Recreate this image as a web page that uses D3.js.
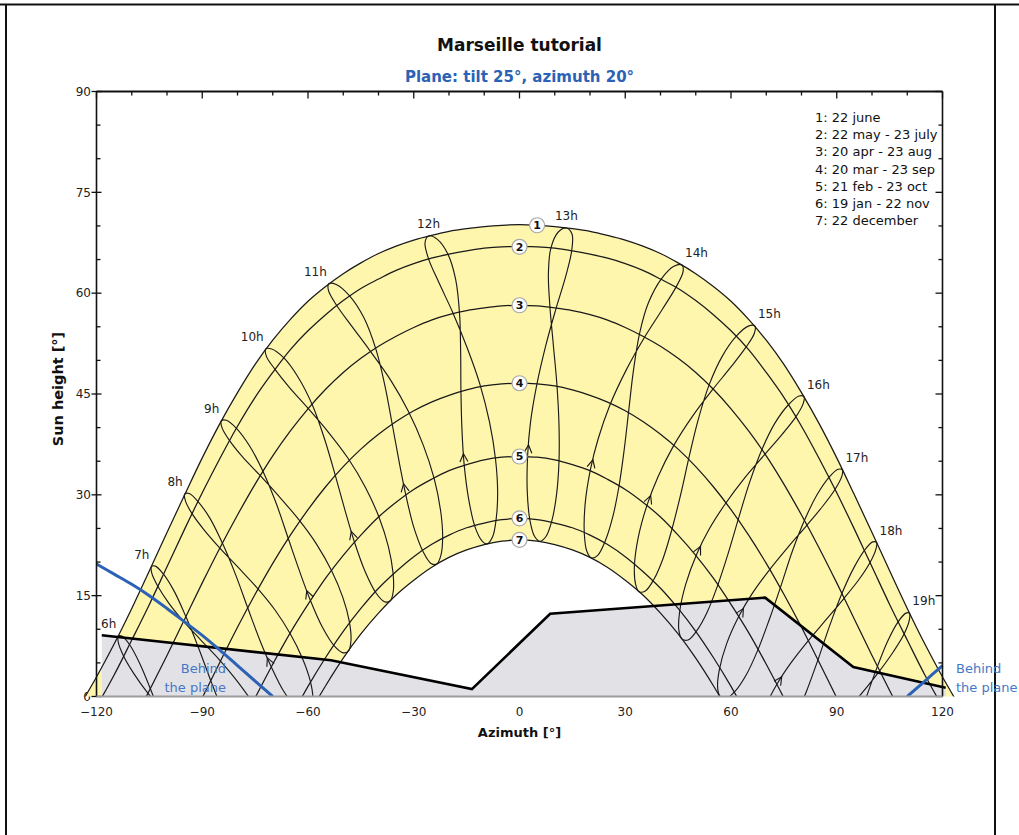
<!DOCTYPE html>
<html>
<head>
<meta charset="utf-8">
<script src="https://cdn.jsdelivr.net/npm/d3@7"></script>
<style>
  body { margin: 0; background: #fff; }
  svg { display: block; font-family: "DejaVu Sans", Verdana, sans-serif; }
</style>
</head>
<body>
<svg id="chart" width="1019" height="835"></svg>
<script>
// ---- data ----
const xTicks = [-120, -90, -60, -30, 0, 30, 60, 90, 120];
const yTicks = [0, 15, 30, 45, 60, 75, 90];

const dayLabels = ["1: 22 june", "2: 22 may - 23 july", "3: 20 apr - 23 aug", "4: 20 mar - 23 sep",
                   "5: 21 feb - 23 oct", "6: 19 jan - 22 nov", "7: 22 december"];

// day curves: sun height at each azimuth
const curveAzimuths = [-125, -120, -115, -110, -105, -100, -95, -90, -85, -80, -75, -70, -65, -60, -55, -50, -45,
  -40, -35, -30, -25, -20, -15, -10, -5, 0, 5, 10, 15, 20, 25, 30, 35, 40,
  45, 50, 55, 60, 65, 70, 75, 80, 85, 90, 95, 100, 105, 110, 115, 120, 125];
const curve1 = [-1.6, 2.9, 7.8, 13.1, 18.7, 24.4, 30.0, 35.5, 40.6, 45.2, 49.4, 53.0, 56.1, 58.8, 61.0, 62.9, 64.5,
  65.9, 67.0, 67.9, 68.6, 69.2, 69.6, 69.9, 70.1, 70.2, 70.1, 69.9, 69.6, 69.2, 68.6, 67.9, 67.0, 65.9,
  64.5, 62.9, 61.0, 58.8, 56.1, 53.0, 49.4, 45.2, 40.6, 35.5, 30.0, 24.4, 18.7, 13.1, 7.8, 2.9, -1.6];
const curve2 = [-5.8, -1.5, 3.2, 8.4, 13.7, 19.3, 24.9, 30.3, 35.4, 40.2, 44.5, 48.2, 51.6, 54.4, 56.8, 58.9, 60.7,
  62.1, 63.4, 64.4, 65.2, 65.8, 66.3, 66.7, 66.9, 66.9, 66.9, 66.7, 66.3, 65.8, 65.2, 64.4, 63.4, 62.1,
  60.7, 58.9, 56.8, 54.4, 51.6, 48.2, 44.5, 40.2, 35.4, 30.3, 24.9, 19.3, 13.7, 8.4, 3.2, -1.5, -5.8];
const curve3 = [-17.0, -13.1, -8.8, -4.1, 0.9, 6.1, 11.5, 16.9, 22.1, 27.0, 31.6, 35.8, 39.5, 42.8, 45.7, 48.2, 50.3,
  52.1, 53.6, 54.9, 56.0, 56.8, 57.4, 57.8, 58.1, 58.2, 58.1, 57.8, 57.4, 56.8, 56.0, 54.9, 53.6, 52.1,
  50.3, 48.2, 45.7, 42.8, 39.5, 35.8, 31.6, 27.0, 22.1, 16.9, 11.5, 6.1, 0.9, -4.1, -8.8, -13.1, -17.0];
const curve4 = [-31.5, -28.1, -24.3, -20.1, -15.5, -10.6, -5.4, -0.2, 5.1, 10.3, 15.2, 19.8, 24.0, 27.8, 31.2, 34.2, 36.8,
  39.0, 40.9, 42.5, 43.8, 44.8, 45.6, 46.2, 46.5, 46.6, 46.5, 46.2, 45.6, 44.8, 43.8, 42.5, 40.9, 39.0,
  36.8, 34.2, 31.2, 27.8, 24.0, 19.8, 15.2, 10.3, 5.1, -0.2, -5.4, -10.6, -15.5, -20.1, -24.3, -28.1, -31.5];
const curve5 = [-45.1, -42.2, -38.8, -35.1, -30.9, -26.3, -21.3, -16.1, -10.8, -5.4, -0.2, 4.8, 9.5, 13.7, 17.6, 21.0, 24.0,
  26.7, 28.9, 30.8, 32.3, 33.6, 34.5, 35.2, 35.6, 35.7, 35.6, 35.2, 34.5, 33.6, 32.3, 30.8, 28.9, 26.7,
  24.0, 21.0, 17.6, 13.7, 9.5, 4.8, -0.2, -5.4, -10.8, -16.1, -21.3, -26.3, -30.9, -35.1, -38.8, -42.2, -45.1];
const curve6 = [-56.9, -54.4, -51.6, -48.3, -44.5, -40.2, -35.4, -30.3, -24.9, -19.3, -13.8, -8.4, -3.3, 1.5, 5.8, 9.7, 13.1,
  16.1, 18.6, 20.8, 22.6, 24.0, 25.1, 25.8, 26.3, 26.5, 26.3, 25.8, 25.1, 24.0, 22.6, 20.8, 18.6, 16.1,
  13.1, 9.7, 5.8, 1.5, -3.3, -8.4, -13.8, -19.3, -24.9, -30.3, -35.4, -40.2, -44.5, -48.3, -51.6, -54.4, -56.9];
const curve7 = [-61.0, -58.8, -56.1, -53.0, -49.3, -45.2, -40.5, -35.4, -30.0, -24.3, -18.6, -13.1, -7.8, -2.9, 1.6, 5.7, 9.3,
  12.4, 15.1, 17.3, 19.2, 20.7, 21.8, 22.6, 23.1, 23.3, 23.1, 22.6, 21.8, 20.7, 19.2, 17.3, 15.1, 12.4,
  9.3, 5.7, 1.6, -2.9, -7.8, -13.1, -18.6, -24.3, -30.0, -35.4, -40.5, -45.2, -49.3, -53.0, -56.1, -58.8, -61.0];
const dayCurves = [curve1, curve2, curve3, curve4, curve5, curve6, curve7];

// hour loops (legal time), one point per half month through the year
const loopDates = ["4 jan", "19 jan", "5 feb", "21 feb", "6 mar", "20 mar", "5 apr", "20 apr", "6 may", "22 may", "7 jun", "22 jun",
                   "7 jul", "23 jul", "8 aug", "23 aug", "8 sep", "23 sep", "8 oct", "23 oct", "7 nov", "22 nov", "7 dec", "22 dec"];
const hours = [6, 7, 8, 9, 10, 11, 12, 13, 14, 15, 16, 17, 18, 19];
const loopAzimuths = [
  [-79.7, -82.5, -86.7, -91.0, -94.3, -97.7, -101.4, -104.6, -107.8, -110.6, -112.8, -113.8, -113.8, -112.3, -109.4, -105.6, -100.6, -95.5, -90.4, -85.7, -81.8, -79.2, -77.9, -78.2],
  [-70.3, -72.9, -76.8, -80.8, -84.0, -87.4, -91.1, -94.5, -97.9, -101.0, -103.3, -104.4, -104.3, -102.6, -99.5, -95.5, -90.4, -85.2, -80.1, -75.6, -71.9, -69.5, -68.5, -68.9],
  [-60.6, -63.1, -66.8, -70.5, -73.6, -76.9, -80.6, -84.1, -87.8, -91.2, -93.7, -95.0, -94.7, -92.9, -89.5, -85.2, -79.8, -74.5, -69.4, -65.0, -61.6, -59.4, -58.6, -59.1],
  [-50.0, -52.5, -55.9, -59.4, -62.3, -65.4, -69.0, -72.6, -76.6, -80.3, -83.2, -84.6, -84.4, -82.3, -78.5, -73.8, -68.1, -62.6, -57.5, -53.3, -50.1, -48.3, -47.8, -48.5],
  [-38.3, -40.7, -43.8, -46.9, -49.4, -52.1, -55.3, -58.7, -62.8, -66.9, -70.3, -72.0, -71.8, -69.4, -65.3, -60.2, -54.2, -48.6, -43.7, -39.8, -37.2, -35.9, -35.8, -36.7],
  [-25.1, -27.3, -30.0, -32.3, -34.1, -36.0, -38.2, -40.7, -44.1, -48.2, -52.0, -54.1, -54.2, -51.9, -47.6, -42.5, -36.6, -31.5, -27.3, -24.2, -22.4, -21.8, -22.3, -23.5],
  [-10.7, -12.6, -14.4, -15.7, -16.3, -16.6, -16.7, -17.0, -18.1, -20.3, -23.3, -25.8, -26.8, -25.8, -22.8, -19.0, -14.8, -11.2, -8.5, -6.8, -6.2, -6.6, -7.6, -9.2],
  [4.3, 3.0, 2.2, 2.3, 3.1, 4.8, 7.5, 10.3, 13.1, 14.8, 14.9, 13.3, 11.0, 8.9, 8.2, 8.6, 9.6, 10.6, 11.2, 11.2, 10.5, 9.2, 7.5, 5.8],
  [19.1, 18.4, 18.6, 20.1, 22.3, 25.6, 30.4, 35.3, 40.4, 44.4, 46.4, 46.1, 43.8, 40.2, 36.6, 34.1, 32.3, 31.0, 29.7, 28.2, 26.4, 24.3, 22.2, 20.4],
  [32.9, 32.6, 33.7, 36.2, 39.3, 43.5, 49.1, 54.7, 60.1, 64.3, 66.6, 66.8, 64.9, 61.5, 57.5, 53.9, 50.7, 48.1, 45.7, 43.2, 40.7, 38.1, 35.7, 33.9],
  [45.2, 45.4, 47.1, 50.2, 53.7, 58.3, 64.0, 69.4, 74.5, 78.4, 80.5, 80.7, 79.3, 76.3, 72.5, 68.9, 65.3, 62.2, 59.2, 56.2, 53.2, 50.3, 47.8, 46.0],
  [56.2, 56.7, 58.8, 62.3, 66.0, 70.7, 76.3, 81.4, 86.0, 89.5, 91.4, 91.6, 90.4, 87.8, 84.4, 81.0, 77.4, 74.2, 70.9, 67.6, 64.3, 61.2, 58.6, 56.8],
  [66.2, 66.9, 69.4, 73.1, 77.0, 81.6, 87.1, 91.9, 96.3, 99.4, 101.1, 101.3, 100.2, 97.8, 94.8, 91.6, 88.1, 84.9, 81.5, 78.0, 74.5, 71.2, 68.4, 66.7],
  [75.7, 76.6, 79.4, 83.3, 87.3, 91.9, 97.3, 102.0, 106.1, 109.1, 110.6, 110.6, 109.6, 107.4, 104.6, 101.7, 98.4, 95.2, 91.8, 88.1, 84.4, 80.8, 77.9, 76.1]
];
const loopHeights = [
  [-23.0, -22.5, -20.4, -16.9, -13.3, -8.8, -3.5, 1.0, 5.0, 7.7, 9.0, 9.0, 8.0, 6.0, 3.4, 0.6, -2.5, -5.4, -8.5, -11.7, -14.9, -18.0, -20.5, -22.3],
  [-12.4, -11.9, -9.6, -6.1, -2.4, 2.1, 7.3, 11.7, 15.6, 18.2, 19.4, 19.3, 18.3, 16.4, 13.9, 11.3, 8.4, 5.5, 2.3, -1.0, -4.3, -7.5, -10.1, -11.8],
  [-2.5, -1.8, 0.7, 4.5, 8.3, 12.9, 18.2, 22.6, 26.5, 29.0, 30.2, 30.1, 29.0, 27.2, 24.8, 22.2, 19.2, 16.2, 12.9, 9.3, 5.7, 2.4, -0.3, -2.0],
  [6.5, 7.5, 10.3, 14.4, 18.5, 23.2, 28.7, 33.3, 37.3, 39.9, 41.1, 41.0, 40.0, 38.1, 35.6, 33.0, 29.7, 26.3, 22.6, 18.7, 14.7, 11.2, 8.4, 6.8],
  [14.1, 15.4, 18.6, 23.1, 27.5, 32.6, 38.3, 43.3, 47.5, 50.4, 51.7, 51.7, 50.6, 48.7, 46.0, 43.0, 39.3, 35.4, 31.1, 26.6, 22.3, 18.5, 15.7, 14.2],
  [19.8, 21.5, 25.2, 30.1, 34.8, 40.2, 46.3, 51.6, 56.3, 59.6, 61.3, 61.4, 60.4, 58.2, 55.1, 51.5, 47.1, 42.4, 37.4, 32.4, 27.7, 23.8, 21.0, 19.7],
  [23.2, 25.2, 29.3, 34.5, 39.4, 45.0, 51.4, 56.9, 62.0, 65.8, 68.0, 68.5, 67.5, 65.1, 61.5, 57.2, 51.8, 46.4, 40.8, 35.3, 30.4, 26.5, 23.8, 22.7],
  [23.8, 26.1, 30.5, 35.8, 40.7, 46.1, 52.3, 57.6, 62.5, 66.3, 68.8, 69.7, 69.1, 66.7, 62.9, 58.2, 52.3, 46.5, 40.5, 34.9, 30.0, 26.2, 23.8, 23.1],
  [21.6, 24.1, 28.5, 33.7, 38.3, 43.3, 48.7, 53.3, 57.5, 60.9, 63.2, 64.2, 64.0, 62.1, 58.6, 54.1, 48.4, 42.6, 36.7, 31.2, 26.6, 23.1, 21.0, 20.6],
  [16.8, 19.4, 23.7, 28.5, 32.7, 37.1, 41.7, 45.6, 49.1, 52.0, 54.0, 55.1, 55.1, 53.6, 50.6, 46.5, 41.2, 35.6, 30.0, 24.8, 20.5, 17.4, 15.7, 15.6],
  [9.9, 12.5, 16.6, 21.1, 24.8, 28.6, 32.6, 35.9, 39.0, 41.6, 43.6, 44.6, 44.7, 43.4, 40.7, 36.9, 31.9, 26.6, 21.3, 16.5, 12.5, 9.8, 8.4, 8.6],
  [1.4, 4.0, 7.9, 12.0, 15.3, 18.7, 22.3, 25.4, 28.3, 30.8, 32.7, 33.7, 33.8, 32.6, 30.0, 26.4, 21.6, 16.5, 11.5, 6.9, 3.2, 0.8, -0.3, 0.1],
  [-8.1, -5.6, -1.9, 1.9, 5.0, 8.1, 11.5, 14.5, 17.4, 19.9, 21.9, 22.9, 23.0, 21.7, 19.1, 15.5, 10.7, 5.8, 0.9, -3.5, -7.0, -9.2, -10.1, -9.5],
  [-18.4, -15.9, -12.4, -8.8, -5.8, -2.7, 0.6, 3.7, 6.7, 9.3, 11.4, 12.4, 12.4, 11.1, 8.4, 4.7, -0.1, -5.1, -10.0, -14.4, -17.7, -19.8, -20.5, -19.9]
];

// far horizon profile
const horizonAz = [-118.5, -53.5, -13.5, 8.7, 69.7, 94.7, 120.9];
const horizonHeight = [9.1, 5.4, 1.1, 12.3, 14.7, 4.4, 1.3];

// limit where the sun goes behind the plane
const behindLeftAz = [-120, -115, -110, -105, -100, -95, -90, -85, -80, -75, -70];
const behindLeftH = [19.7, 18.2, 16.7, 15.0, 13.1, 11.1, 9.1, 6.9, 4.6, 2.3, 0.0];
const behindRightAz = [110, 115, 120];
const behindRightH = [0.0, 2.3, 4.6];

// ---- drawing ----
const svg = d3.select("#chart");
const x = d3.scaleLinear().domain([-120, 120]).range([96.5, 942.5]);
const y = d3.scaleLinear().domain([0, 90]).range([696.5, 91.5]);

const yellow = "#fff6ad", grey = "#e2e2e6", blue = "#2b62b5", blueText = "#4677c6";

// page frame
svg.append("line").attr("x1", 0).attr("x2", 1019).attr("y1", 4.5).attr("y2", 4.5).attr("stroke", "#111").attr("stroke-width", 2);
svg.append("line").attr("x1", 6).attr("x2", 6).attr("y1", 4).attr("y2", 835).attr("stroke", "#111").attr("stroke-width", 2);
svg.append("line").attr("x1", 995).attr("x2", 995).attr("y1", 4).attr("y2", 835).attr("stroke", "#111").attr("stroke-width", 2);

// titles
svg.append("text").attr("x", 519.5).attr("y", 51).attr("text-anchor", "middle")
  .attr("font-size", 17).attr("font-weight", "bold").attr("fill", "#111").text("Marseille tutorial");
svg.append("text").attr("x", 519.5).attr("y", 82).attr("text-anchor", "middle")
  .attr("font-size", 15).attr("font-weight", "bold").attr("fill", blue).text("Plane: tilt 25°, azimuth 20°");

// tick labels
const fmt = d3.format("d");
svg.append("g").selectAll("text").data(yTicks).join("text")
  .attr("x", 91).attr("y", d => y(d)).attr("dy", "0.35em").attr("text-anchor", "end")
  .attr("font-size", 12).attr("fill", "#222").text(fmt);
svg.append("g").selectAll("text").data(xTicks).join("text")
  .attr("x", d => x(d)).attr("y", 716).attr("text-anchor", "middle")
  .attr("font-size", 12).attr("fill", "#222").text(fmt);

svg.append("text").attr("x", 519.5).attr("y", 737).attr("text-anchor", "middle")
  .attr("font-size", 13).attr("font-weight", "bold").attr("fill", "#111").text("Azimuth [°]");
svg.append("text").attr("transform", "translate(63,389) rotate(-90)").attr("text-anchor", "middle")
  .attr("font-size", 14.5).attr("font-weight", "bold").attr("fill", "#111").text("Sun height [°]");

// plot area
svg.append("clipPath").attr("id", "plotClip").append("rect")
  .attr("x", 60).attr("y", y(90)).attr("width", 930).attr("height", y(0) - y(90));
const plot = svg.append("g").attr("clip-path", "url(#plotClip)");

const line = d3.line().x(d => x(d[0])).y(d => y(d[1]));
const smooth = d3.line().x(d => x(d[0])).y(d => y(d[1])).curve(d3.curveCatmullRom);
const loopLine = d3.line().x(d => x(d[0])).y(d => y(d[1])).curve(d3.curveCatmullRomClosed.alpha(0.5));
const curvePoints = hs => curveAzimuths.map((a, i) => [a, hs[i]]);

// yellow band between 22 june and 22 december
const upper = smooth(curvePoints(curve1));
const lower = smooth(curvePoints(curve7).reverse());
plot.append("path").attr("d", upper + "L" + lower.slice(1) + "Z").attr("fill", yellow);

// horizon shading
const horizonPts = horizonAz.map((a, i) => [a, horizonHeight[i]]);
plot.append("path")
  .attr("d", line([[horizonAz[0], 0], ...horizonPts, [horizonAz[horizonAz.length - 1], 0]]) + "Z")
  .attr("fill", grey);

// day curves
plot.append("g").selectAll("path").data(dayCurves).join("path")
  .attr("d", d => smooth(curvePoints(d).filter(p => p[1] > -30)))
  .attr("fill", "none").attr("stroke", "#1a1a1a").attr("stroke-width", 1.25);

// hour loops
const loops = hours.map((hr, k) => loopAzimuths[k].map((a, i) => [a, loopHeights[k][i]]));
plot.append("g").selectAll("path").data(loops).join("path")
  .attr("d", d => loopLine(d))
  .attr("fill", "none").attr("stroke", "#1a1a1a").attr("stroke-width", 1.15);

// direction arrows (between 21 feb and 6 mar)
plot.append("g").selectAll("path").data(loops).join("path")
  .attr("d", d => {
    const a = [x(d[3][0]), y(d[3][1])], b = [x(d[4][0]), y(d[4][1])];
    const t = 0.33;
    const p = [a[0] + t * (b[0] - a[0]), a[1] + t * (b[1] - a[1])];
    const len = Math.hypot(b[0] - a[0], b[1] - a[1]);
    const u = [(b[0] - a[0]) / len, (b[1] - a[1]) / len], n = [-u[1], u[0]];
    const l = 8, w = 4;
    return `M${p[0] - l * u[0] + w * n[0]},${p[1] - l * u[1] + w * n[1]}L${p[0]},${p[1]}L${p[0] - l * u[0] - w * n[0]},${p[1] - l * u[1] - w * n[1]}`;
  })
  .attr("fill", "none").attr("stroke", "#1a1a1a").attr("stroke-width", 1.15);

// horizon line
plot.append("path").attr("d", line(horizonPts))
  .attr("fill", "none").attr("stroke", "#000").attr("stroke-width", 2.6).attr("stroke-linejoin", "miter");

// behind-the-plane limits
plot.append("path").attr("d", smooth(behindLeftAz.map((a, i) => [a, behindLeftH[i]])))
  .attr("fill", "none").attr("stroke", blue).attr("stroke-width", 3);
plot.append("path").attr("d", smooth(behindRightAz.map((a, i) => [a, behindRightH[i]])))
  .attr("fill", "none").attr("stroke", blue).attr("stroke-width", 3);

// axes frame and ticks
const ax = svg.append("g").attr("stroke", "#111");
ax.append("line").attr("x1", x(-120)).attr("x2", x(120)).attr("y1", y(90)).attr("y2", y(90)).attr("stroke-width", 2);
ax.append("line").attr("x1", x(-120)).attr("x2", x(-120)).attr("y1", y(90)).attr("y2", y(0)).attr("stroke-width", 1.6);
ax.append("line").attr("x1", x(120)).attr("x2", x(120)).attr("y1", y(90)).attr("y2", y(0)).attr("stroke-width", 1.6);
svg.append("line").attr("x1", x(-120)).attr("x2", x(120)).attr("y1", y(0)).attr("y2", y(0))
  .attr("stroke", "#9c9c9c").attr("stroke-width", 2);

d3.range(-120, 121, 10).forEach(a => {
  const major = a % 30 === 0;
  ax.append("line").attr("x1", x(a)).attr("x2", x(a)).attr("y1", y(90)).attr("y2", y(90) + (major ? 7 : 4)).attr("stroke-width", 1.3);
});
d3.range(0, 91, 5).forEach(h => {
  const major = h % 15 === 0;
  ax.append("line").attr("x1", x(-120) - (major ? 5 : 0)).attr("x2", x(-120) + (major ? 5 : 4))
    .attr("y1", y(h)).attr("y2", y(h)).attr("stroke-width", 1.3);
  ax.append("line").attr("x1", x(120) - (major ? 7 : 4)).attr("x2", x(120))
    .attr("y1", y(h)).attr("y2", y(h)).attr("stroke-width", 1.3);
});

// day curve markers
const markers = svg.append("g");
dayCurves.forEach((hs, k) => {
  const az = k === 0 ? 5 : 0;
  const h = hs[curveAzimuths.indexOf(az)];
  markers.append("circle").attr("cx", x(az)).attr("cy", y(h)).attr("r", 7.5)
    .attr("fill", "#fff").attr("stroke", "#a8a8a8").attr("stroke-width", 1.2);
  markers.append("text").attr("x", x(az)).attr("y", y(h)).attr("dy", "0.36em").attr("text-anchor", "middle")
    .attr("font-size", 11).attr("font-weight", "bold").attr("fill", "#111").text(k + 1);
});

// hour labels at the 22 june point of each loop
svg.append("g").selectAll("text").data(hours).join("text")
  .attr("x", (hr, k) => {
    const a = loopAzimuths[k][11];
    return a < -28 ? x(a) - 2 : a > 20 ? x(a) + 3 : x(a);
  })
  .attr("y", (hr, k) => y(loopHeights[k][11]) - 8)
  .attr("text-anchor", (hr, k) => {
    const a = loopAzimuths[k][11];
    return a < -28 ? "end" : a > 20 ? "start" : "middle";
  })
  .attr("font-size", 12).attr("fill", "#222").text(d => d + "h");

// legend
svg.append("g").selectAll("text").data(dayLabels).join("text")
  .attr("x", 815).attr("y", (d, i) => 122 + i * 17.2)
  .attr("font-size", 13).attr("fill", "#111").text(d => d);

// behind the plane notes
const noteL = svg.append("text").attr("font-size", 13).attr("fill", blueText).attr("text-anchor", "end");
noteL.append("tspan").attr("x", 226).attr("y", 673).text("Behind");
noteL.append("tspan").attr("x", 226).attr("y", 691.5).text("the plane");
const noteR = svg.append("text").attr("font-size", 13).attr("fill", blueText).attr("text-anchor", "start");
noteR.append("tspan").attr("x", 956).attr("y", 673).text("Behind");
noteR.append("tspan").attr("x", 956).attr("y", 691.5).text("the plane");
</script>
</body>
</html>
